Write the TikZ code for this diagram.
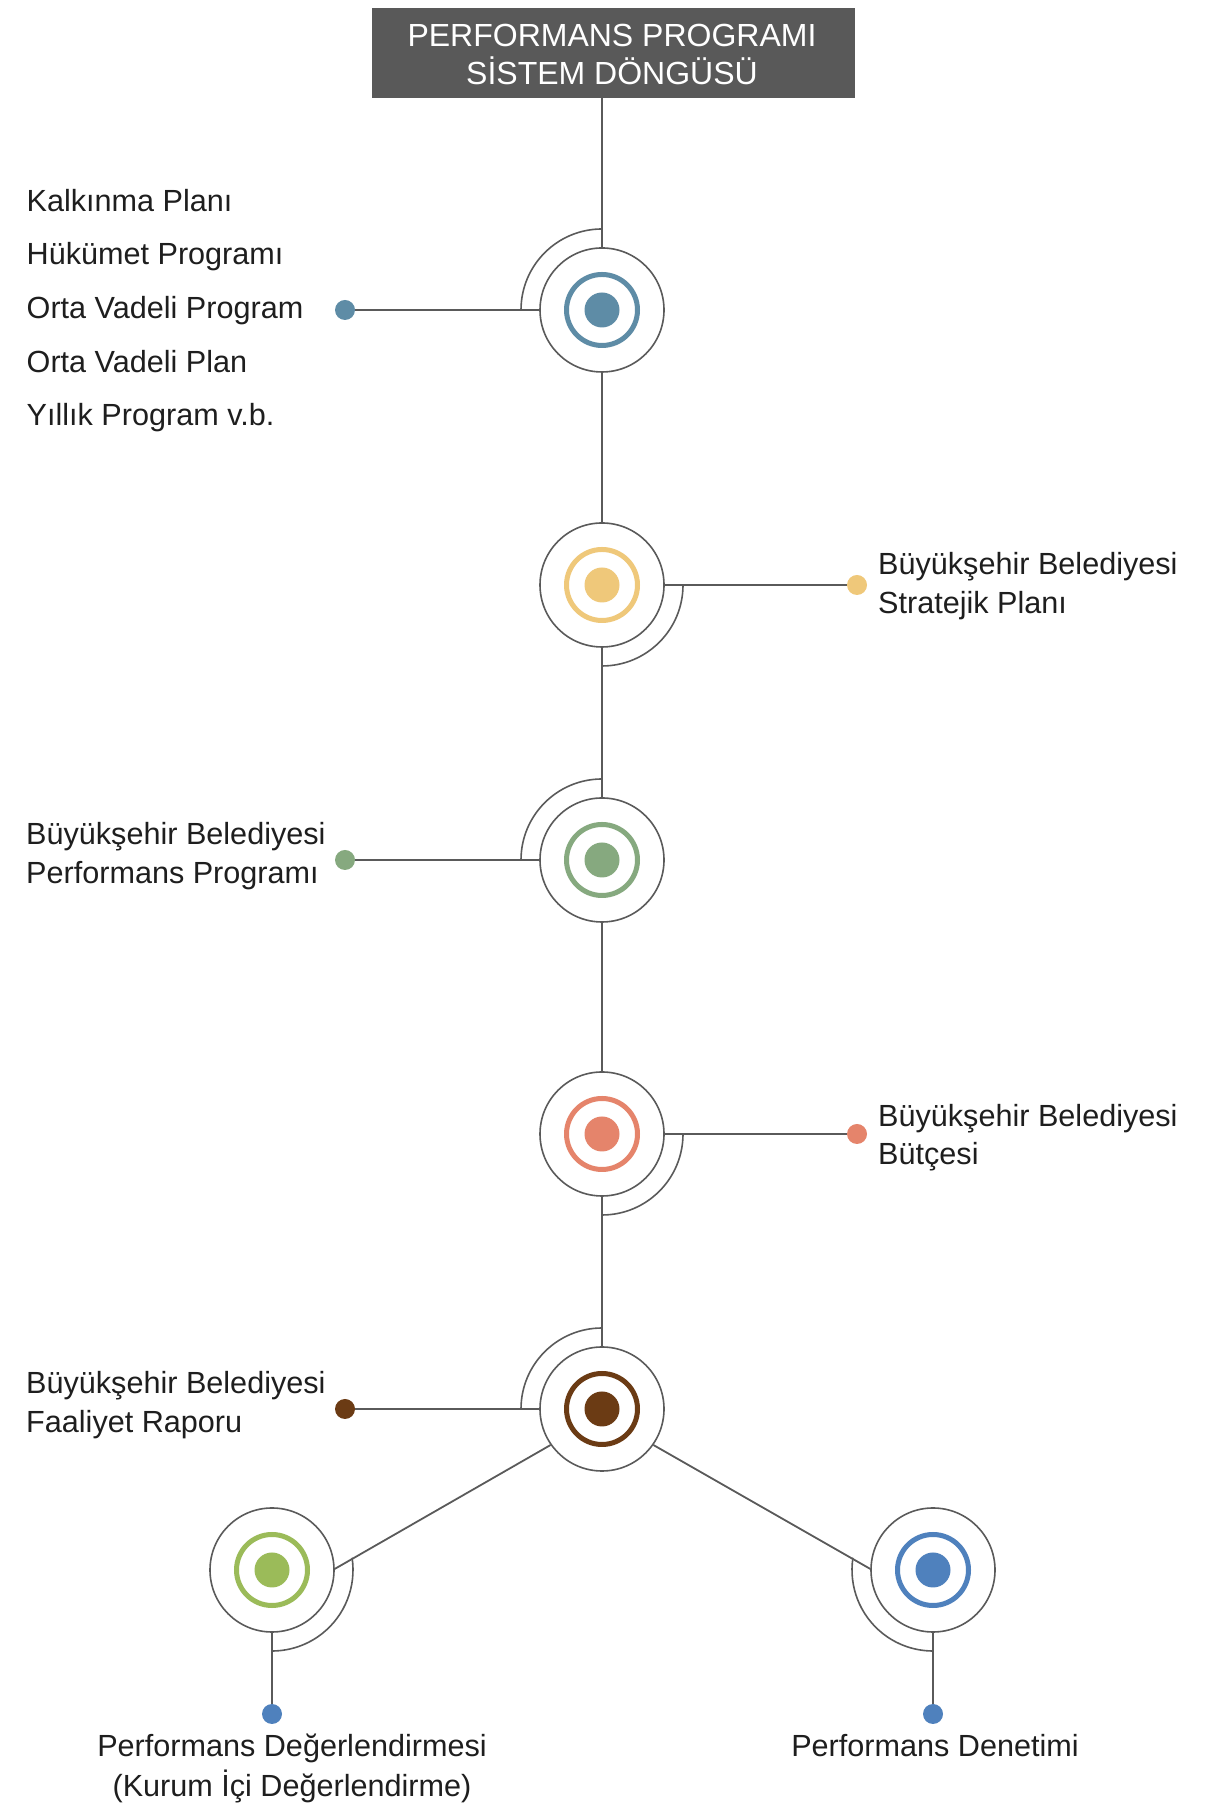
\documentclass[tikz,border=0pt]{standalone}
\usepackage{fontspec}
\setmainfont{Liberation Sans}
\definecolor{linegray}{HTML}{5A5A5A}
\definecolor{headgray}{HTML}{595959}
\definecolor{colA}{HTML}{5E8CA6}
\definecolor{colB}{HTML}{EFC87A}
\definecolor{colC}{HTML}{86A97F}
\definecolor{colD}{HTML}{E5846B}
\definecolor{colE}{HTML}{6B3B14}
\definecolor{colF}{HTML}{9BBB59}
\definecolor{colG}{HTML}{4F81BD}
\definecolor{txt}{HTML}{1E1E1E}
\begin{document}
\begin{tikzpicture}[x=1pt,y=1pt,
  conn/.style={draw=linegray, line width=1.8pt},
  halo/.style={draw=linegray, line width=1.6pt},
  outer/.style={circle, draw=linegray, line width=1.6pt, fill=white, minimum size=124pt, inner sep=0pt},
  dotnode/.style={circle, fill=#1, minimum size=20pt, inner sep=0pt},
  lbl/.style={anchor=base west, inner sep=0pt, font=\fontsize{30.6}{39}\selectfont, text=txt},
  clbl/.style={anchor=base, inner sep=0pt, font=\fontsize{30.6}{39}\selectfont, text=txt},
  target/.pic={\draw[line width=5pt, draw=#1] (0,0) circle[radius=35.5];
                \fill[#1] (0,0) circle[radius=17.5];}
]
\useasboundingbox (0,0) rectangle (1227,1804);

% header
\node[fill=headgray, minimum width=483pt, minimum height=90pt, inner sep=0pt] (header) at (613.5,1751) {};
\node[anchor=base, inner sep=0pt, text=white, font=\fontsize{32}{32}\selectfont] (h1) at (612,1757) {PERFORMANS PROGRAMI};
\node[anchor=base, inner sep=0pt, text=white, font=\fontsize{32}{32}\selectfont] (h2) at (612,1719) {SİSTEM DÖNGÜSÜ};

% circles
\node[outer] (c1) at (602,1494) {};
\node[outer] (c2) at (602,1219) {};
\node[outer] (c3) at (602,944) {};
\node[outer] (c4) at (602,670) {};
\node[outer] (c5) at (602,395) {};
\node[outer] (c6) at (272,234) {};
\node[outer] (c7) at (933,234) {};

% dots
\node[dotnode=colA] (d1) at (345,1494) {};
\node[dotnode=colB] (d2) at (857,1219) {};
\node[dotnode=colC] (d3) at (345,944) {};
\node[dotnode=colD] (d4) at (857,670) {};
\node[dotnode=colE] (d5) at (345,395) {};
\node[dotnode=colG] (d6) at (272,90) {};
\node[dotnode=colG] (d7) at (933,90) {};

% connectors
\draw[conn] (header.south -| c1.north) -- (c1);
\draw[conn] (c1) -- (c2);
\draw[conn] (c2) -- (c3);
\draw[conn] (c3) -- (c4);
\draw[conn] (c4) -- (c5);
\draw[conn] (c5.215) -- (c6.1);
\draw[conn] (c5.-35) -- (c7.179);
\draw[conn] (d1) -- (c1);
\draw[conn] (c2) -- (d2);
\draw[conn] (d3) -- (c3);
\draw[conn] (c4) -- (d4);
\draw[conn] (d5) -- (c5);
\draw[conn] (c6) -- (d6);
\draw[conn] (c7) -- (d7);

% halo arcs
\draw[halo] (c1.center) ++(90:81) arc[start angle=90, end angle=180, radius=81];
\draw[halo] (c2.center) ++(0:81) arc[start angle=0, end angle=-90, radius=81];
\draw[halo] (c3.center) ++(90:81) arc[start angle=90, end angle=180, radius=81];
\draw[halo] (c4.center) ++(0:81) arc[start angle=0, end angle=-90, radius=81];
\draw[halo] (c5.center) ++(90:81) arc[start angle=90, end angle=180, radius=81];
\draw[halo] (c6.center) ++(8.7:81) arc[start angle=8.7, end angle=-90, radius=81];
\draw[halo] (c7.center) ++(171.3:81) arc[start angle=171.3, end angle=270, radius=81];

% targets
\pic at (c1.center) {target=colA};
\pic at (c2.center) {target=colB};
\pic at (c3.center) {target=colC};
\pic at (c4.center) {target=colD};
\pic at (c5.center) {target=colE};
\pic at (c6.center) {target=colF};
\pic at (c7.center) {target=colG};

% labels
\node[lbl] (t1a) at (26.5,1592) {Kalkınma Planı};
\node[lbl] (t1b) at (26.5,1539) {Hükümet Programı};
\node[lbl] (t1c) at (26.5,1485) {Orta Vadeli Program};
\node[lbl] (t1d) at (26.5,1431) {Orta Vadeli Plan};
\node[lbl] (t1e) at (26.5,1378) {Yıllık Program v.b.};

\node[lbl] (t2a) at (878,1229) {Büyükşehir Belediyesi};
\node[lbl] (t2b) at (878,1190) {Stratejik Planı};

\node[lbl] (t3a) at (26,959) {Büyükşehir Belediyesi};
\node[lbl] (t3b) at (26,920) {Performans Programı};

\node[lbl] (t4a) at (878,677) {Büyükşehir Belediyesi};
\node[lbl] (t4b) at (878,639) {Bütçesi};

\node[lbl] (t5a) at (26,410) {Büyükşehir Belediyesi};
\node[lbl] (t5b) at (26,371) {Faaliyet Raporu};

\node[clbl] (t6a) at (292,47) {Performans Değerlendirmesi};
\node[clbl] (t6b) at (292,8) {(Kurum İçi Değerlendirme)};
\node[clbl] (t7a) at (935,47) {Performans Denetimi};
\end{tikzpicture}
\end{document}
